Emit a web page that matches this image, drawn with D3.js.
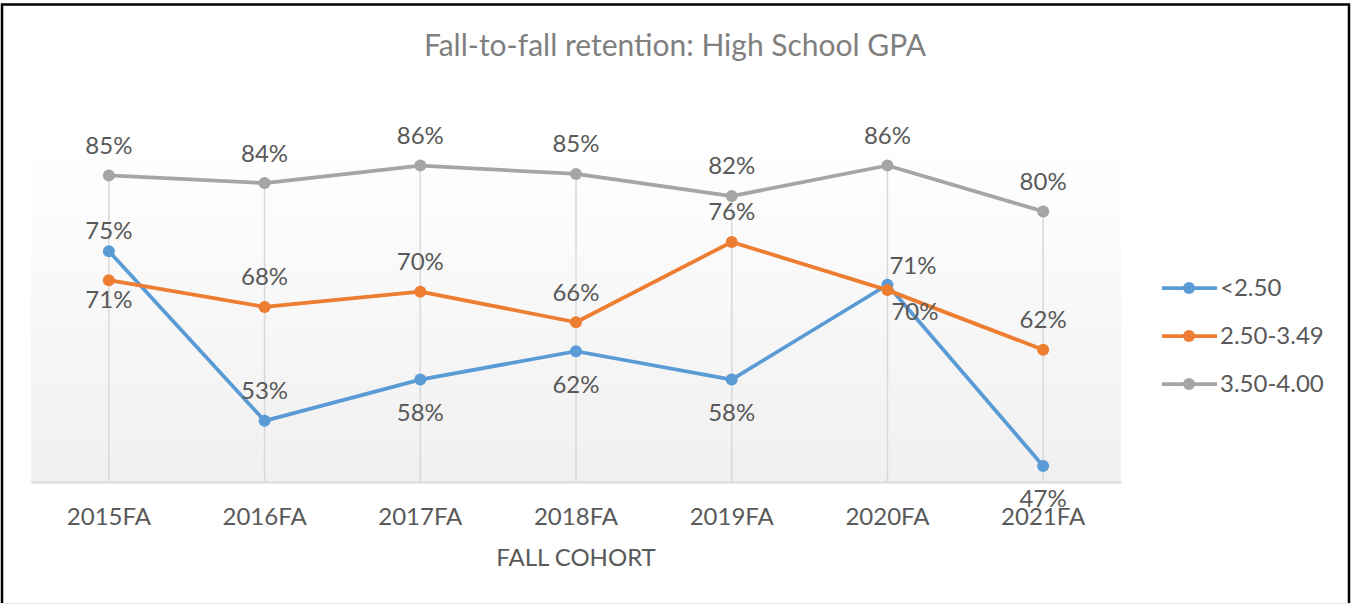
<!DOCTYPE html>
<meta charset="utf-8">
<head>
  <script src="https://d3js.org/d3.v7.min.js"></script>
</head>
<style>
body {
  margin: 0;
  background: white;
  font-family: Lato, "Open Sans", sans-serif;
}
.axis text {
  font-family: Lato, "Open Sans", sans-serif;
  font-size: 24px;
  fill: #595959;
}
.data-label {
  font-size: 24px;
  fill: #595959;
}
.legend text {
  font-size: 24px;
  fill: #595959;
}
</style>
<body>
<svg width="1351" height="605" id="container"></svg>
<script>

// fall cohorts on the x axis
var cohorts = ['2015FA', '2016FA', '2017FA', '2018FA', '2019FA', '2020FA', '2021FA'];

// retention % by high school GPA band
var seriesNames = ['<2.50', '2.50-3.49', '3.50-4.00'];
var gpaLow  = [75.2, 53.0, 58.4, 62.1, 58.4, 70.8, 47.1];
var gpaMid  = [71.4, 67.9, 69.9, 65.9, 76.4, 70.1, 62.3];
var gpaHigh = [85.1, 84.1, 86.4, 85.3, 82.4, 86.4, 80.4];

// where excel put each data label (t = above, b = below, tn / bn = closer, tr / br = right side)
var lowPlace  = ['tn', 't', 'b', 'b', 'b', 'tr', 'b'];
var midPlace  = ['bn', 't', 't', 't', 't', 'br', 't'];
var highPlace = ['t', 't', 't', 't', 't', 't', 't'];

var colors = ['#5b9bd5', '#ed7d31', '#a5a5a5'];

var svg = d3.select('#container');

var plot = {left: 31, right: 1121, top: 138, bottom: 482};

var xScale = d3.scaleBand().domain(cohorts).range([plot.left, plot.right]);
var yScale = d3.scaleLinear().domain([45, 90]).range([plot.bottom, plot.top]);

function cx(c) { return xScale(c) + xScale.bandwidth() / 2; }

// outer frame
svg.append('path')
   .attr('d', 'M2,603 L2,4.5 L1349,4.5 L1349,603')
   .attr('fill', 'none')
   .attr('stroke', '#000')
   .attr('stroke-width', 2.5);
svg.append('line')
   .attr('x1', 2).attr('x2', 1349)
   .attr('y1', 603.5).attr('y2', 603.5)
   .attr('stroke', '#e6e6e6');

// plot area gradient
var grad = svg.append('defs').append('linearGradient')
              .attr('id', 'plotGrad')
              .attr('x1', 0).attr('y1', 0).attr('x2', 0).attr('y2', 1);
grad.append('stop').attr('offset', '0%').attr('stop-color', '#ffffff');
grad.append('stop').attr('offset', '100%').attr('stop-color', '#f0f0f0');

svg.append('rect')
   .attr('x', plot.left)
   .attr('y', plot.top)
   .attr('width', plot.right - plot.left)
   .attr('height', plot.bottom - plot.top)
   .attr('fill', 'url(#plotGrad)');

// title
svg.append('text')
   .attr('x', 675)
   .attr('y', 56)
   .attr('text-anchor', 'middle')
   .attr('font-size', '30px')
   .attr('fill', '#7f7f7f')
   .text('Fall-to-fall retention: High School GPA');

var series = [
  {name: seriesNames[0], values: gpaLow,  place: lowPlace,  color: colors[0]},
  {name: seriesNames[1], values: gpaMid,  place: midPlace,  color: colors[1]},
  {name: seriesNames[2], values: gpaHigh, place: highPlace, color: colors[2]}
];

// drop lines from the highest point of each cohort
svg.append('g')
   .selectAll('line')
   .data(cohorts)
   .enter()
   .append('line')
   .attr('x1', cx).attr('x2', cx)
   .attr('y1', function(c, i) { return yScale(d3.max(series, function(s) { return s.values[i]; })); })
   .attr('y2', plot.bottom)
   .attr('stroke', '#d9d9d9')
   .attr('stroke-width', 1.5);

// x axis
var xAxis = svg.append('g')
               .attr('class', 'axis axis--x')
               .attr('transform', 'translate(0,' + plot.bottom + ')')
               .call(d3.axisBottom(xScale).tickSize(0).tickSizeOuter(0).tickPadding(26));
xAxis.select('.domain').attr('stroke', '#d9d9d9').attr('stroke-width', 2);

svg.append('text')
   .attr('x', (plot.left + plot.right) / 2)
   .attr('y', 566)
   .attr('text-anchor', 'middle')
   .attr('font-size', '24px')
   .attr('fill', '#595959')
   .text('FALL COHORT');

var line = d3.line()
             .x(function(d, i) { return cx(cohorts[i]); })
             .y(function(d) { return yScale(d); });

var groups = svg.selectAll('.series')
                .data(series)
                .enter()
                .append('g')
                .attr('class', 'series');

groups.append('path')
      .attr('d', function(s) { return line(s.values); })
      .attr('fill', 'none')
      .attr('stroke', function(s) { return s.color; })
      .attr('stroke-width', 3.75)
      .attr('stroke-linejoin', 'round');

groups.selectAll('circle')
      .data(function(s) { return s.values.map(function(v) { return {v: v, color: s.color}; }); })
      .enter()
      .append('circle')
      .attr('cx', function(d, i) { return cx(cohorts[i]); })
      .attr('cy', function(d) { return yScale(d.v); })
      .attr('r', 6)
      .attr('fill', function(d) { return d.color; });

// data labels
var labelOffsets = {
  t:  {dx: 0,  dy: -30, anchor: 'middle'},
  tn: {dx: 0,  dy: -21, anchor: 'middle'},
  b:  {dx: 0,  dy: 33,  anchor: 'middle'},
  bn: {dx: 0,  dy: 19,  anchor: 'middle'},
  tr: {dx: 2,  dy: -19, anchor: 'start'},
  br: {dx: 4,  dy: 21,  anchor: 'start'}
};

groups.selectAll('.data-label')
      .data(function(s) { return s.values.map(function(v, i) { return {v: v, place: s.place[i]}; }); })
      .enter()
      .append('text')
      .attr('class', 'data-label')
      .attr('x', function(d, i) { return cx(cohorts[i]) + labelOffsets[d.place].dx; })
      .attr('y', function(d) { return yScale(d.v) + labelOffsets[d.place].dy; })
      .attr('dy', '0.35em')
      .attr('text-anchor', function(d) { return labelOffsets[d.place].anchor; })
      .text(function(d) { return Math.round(d.v) + '%'; });

// legend
var legend = svg.append('g')
                .attr('class', 'legend')
                .selectAll('g')
                .data(series)
                .enter()
                .append('g')
                .attr('transform', function(d, i) { return 'translate(1162,' + (288 + i * 48) + ')'; });

legend.append('line')
      .attr('x1', 0).attr('x2', 55)
      .attr('stroke', function(d) { return d.color; })
      .attr('stroke-width', 3.75);
legend.append('circle')
      .attr('cx', 27).attr('r', 6)
      .attr('fill', function(d) { return d.color; });
legend.append('text')
      .attr('x', 58)
      .attr('dy', '0.35em')
      .text(function(d) { return d.name; });

</script>
</body>
